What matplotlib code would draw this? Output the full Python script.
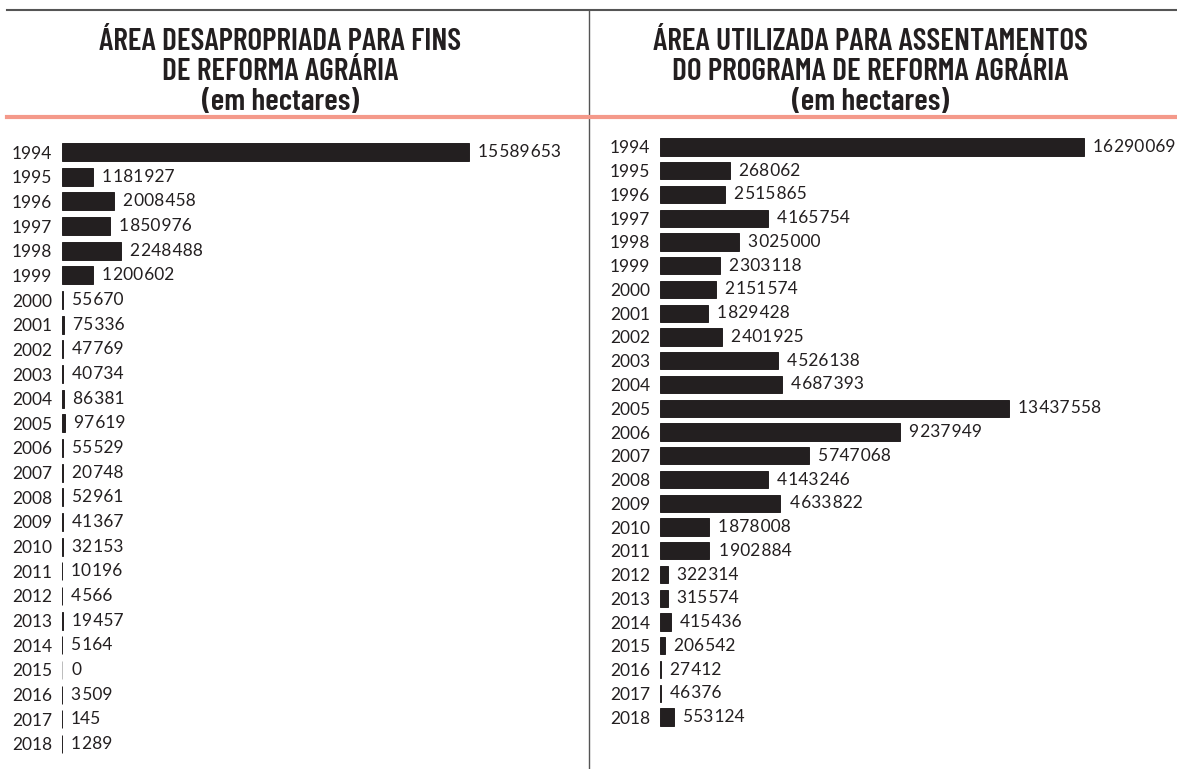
import matplotlib
matplotlib.use("Agg")
import matplotlib.pyplot as plt
from matplotlib.lines import Line2D

# data
anos = list(range(1994, 2019))
desapropriada = [15589653, 1181927, 2008458, 1850976, 2248488, 1200602, 55670, 75336,
                 47769, 40734, 86381, 97619, 55529, 20748, 52961, 41367, 32153, 10196,
                 4566, 19457, 5164, 0, 3509, 145, 1289]
# bar for 1995 is drawn ~10x the printed label in the source graphic
assentamentos = [16290069, 2680620, 2515865, 4165754, 3025000, 2303118, 2151574, 1829428,
                 2401925, 4526138, 4687393, 13437558, 9237949, 5747068, 4143246, 4633822,
                 1878008, 1902884, 322314, 315574, 415436, 206542, 27412, 46376, 553124]
rotulos_assent = ["16290069", "268062", "2515865", "4165754", "3025000", "2303118",
                  "2151574", "1829428", "2401925", "4526138", "4687393", "13437558",
                  "9237949", "5747068", "4143246", "4633822", "1878008", "1902884",
                  "322314", "315574", "415436", "206542", "27412", "46376", "553124"]
rotulos_desap = [str(v) for v in desapropriada]

titulo_esq = "ÁREA DESAPROPRIADA PARA FINS\nDE REFORMA AGRÁRIA\n(em hectares)"
titulo_dir = "ÁREA UTILIZADA PARA ASSENTAMENTOS\nDO PROGRAMA DE REFORMA AGRÁRIA\n(em hectares)"

W, H = 1177, 769
fig = plt.figure(figsize=(W / 100, H / 100), dpi=100)
fig.patch.set_facecolor("white")

escuro = "#231f20"
fonte = ["Lato", "DejaVu Sans"]
fonte_tit = ["Barlow Condensed", "Barlow Semi Condensed", "Roboto Condensed", "DejaVu Sans"]


def fmt(s):
    # hair spaces between thousands groups
    n = len(s)
    grupos = []
    while n > 3:
        grupos.insert(0, s[n - 3:n])
        n -= 3
    grupos.insert(0, s[:n])
    return "\u200a".join(grupos)


def painel(x0, x1, ytop, ybot, escala, valores, rotulos):
    ax = fig.add_axes([x0 / W, 1 - ybot / H, (x1 - x0) / W, (ybot - ytop) / H])
    ax.set_xlim(0, (x1 - x0) / escala)
    ax.set_ylim(len(anos) - 0.5, -0.5)
    pos = list(range(len(anos)))
    cores = [escuro if v > 0 else "#bbbbbb" for v in valores]
    ax.barh(pos, valores, height=0.72, color=cores, edgecolor=cores, linewidth=0.7)
    for p, v, r in zip(pos, valores, rotulos):
        ax.annotate(fmt(r), (v, p), xytext=(6.5, 0), textcoords="offset points",
                    va="center", ha="left", fontsize=12.5, color=escuro, family=fonte)
    ax.set_yticks(pos)
    ax.set_yticklabels([str(a) for a in anos], family=fonte, fontsize=12.5, color=escuro)
    ax.tick_params(axis="y", length=0, pad=7)
    ax.set_xticks([])
    for s in ax.spines.values():
        s.set_visible(False)
    ax.patch.set_alpha(0)
    return ax


painel(62, 582, 139.7, 756.3, 2.61e-5, desapropriada, rotulos_desap)
painel(660, 1170, 135.1, 728.9, 2.60e-5, assentamentos, rotulos_assent)

# titles
fig.text(280 / W, 1 - 72 / H, titulo_esq, ha="center", va="center", fontsize=22.6,
         fontweight=600, family=fonte_tit, color=escuro, linespacing=1.08)
fig.text(870 / W, 1 - 72 / H, titulo_dir, ha="center", va="center", fontsize=22.6,
         fontweight=600, family=fonte_tit, color=escuro, linespacing=1.08)

# frame lines
fig.add_artist(Line2D([7 / W, 1], [1 - 10 / H, 1 - 10 / H], color="#555555", lw=1.5))
fig.add_artist(Line2D([589 / W, 589 / W], [1 - 10 / H, 0], color="#555555", lw=1.0))
fig.add_artist(Line2D([7 / W, 1], [1 - 117 / H, 1 - 117 / H], color="#f4998a", lw=3))

fig.savefig("out.png", dpi=100)
